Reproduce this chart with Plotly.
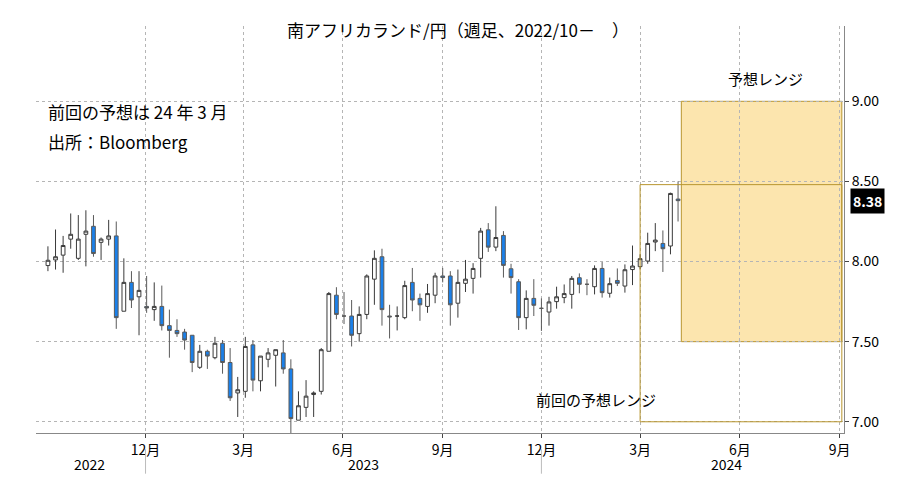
import pandas as pd
import plotly.graph_objects as go

dates = pd.date_range("2022-09-02", periods=84, freq="7D")
opens = [7.975,8.01,8.04,8.14,8.02,8.17,8.22,8.12,8.14,8.16,7.69,7.87,7.78,7.72,7.70,7.72,7.60,7.57,7.56,7.54,
         7.34,7.44,7.40,7.49,7.37,7.18,7.19,7.48,7.256,7.39,7.415,7.43,7.33,7.01,7.09,7.17,7.19,7.44,7.79,7.66,
         7.66,7.55,7.67,7.89,8.03,7.66,7.66,7.65,7.87,7.77,7.72,7.79,7.91,7.91,7.74,7.864,7.895,8.02,8.198,8.09,
         8.163,7.955,7.874,7.65,7.77,7.708,7.685,7.75,7.775,7.795,7.899,7.858,7.843,7.957,7.802,7.882,7.847,7.95,7.968,8.003,
         8.122,8.113,8.097,8.39]
closes = [8.008,8.03,8.10,8.17,8.14,8.19,8.05,8.14,8.16,7.65,7.87,7.76,7.82,7.71,7.72,7.60,7.57,7.55,7.51,7.37,
          7.44,7.41,7.49,7.37,7.15,7.20,7.47,7.26,7.41,7.43,7.45,7.33,7.02,7.10,7.16,7.18,7.45,7.80,7.67,7.66,
          7.54,7.67,7.91,8.02,7.70,7.655,7.66,7.85,7.76,7.73,7.80,7.91,7.90,7.73,7.87,7.89,7.957,8.19,8.09,8.15,
          7.976,7.90,7.65,7.77,7.727,7.708,7.748,7.78,7.80,7.895,7.858,7.858,7.957,7.806,7.862,7.864,7.949,7.972,8.018,8.113,
          8.134,8.08,8.425,8.38]
highs = [8.095,8.20,8.16,8.30,8.29,8.32,8.29,8.15,8.26,8.25,8.02,7.94,7.94,7.91,7.87,7.85,7.70,7.64,7.58,7.54,
         7.48,7.45,7.53,7.51,7.46,7.28,7.53,7.51,7.41,7.46,7.45,7.51,7.39,7.19,7.26,7.19,7.46,7.81,7.84,7.81,
         7.76,7.72,7.92,8.07,8.08,7.73,7.72,7.88,7.96,7.80,7.86,7.93,7.96,7.94,7.95,8.01,7.99,8.21,8.24,8.345,
         8.19,7.986,7.89,7.82,7.89,7.77,7.78,7.843,7.857,7.91,7.926,7.89,7.976,7.997,7.90,7.957,7.982,8.10,8.045,8.18,
         8.24,8.194,8.43,8.50]
lows = [7.94,7.95,7.93,8.08,8.01,7.97,8.03,8.01,8.10,7.58,7.69,7.71,7.54,7.68,7.63,7.57,7.40,7.53,7.45,7.31,
        7.33,7.33,7.39,7.30,7.13,7.03,7.15,7.19,7.19,7.34,7.22,7.30,6.92,7.01,7.03,7.03,7.17,7.44,7.64,7.61,
        7.47,7.50,7.64,7.73,7.60,7.52,7.57,7.64,7.69,7.63,7.68,7.74,7.87,7.60,7.65,7.81,7.80,7.90,8.06,8.065,
        7.90,7.80,7.573,7.577,7.66,7.567,7.60,7.706,7.74,7.706,7.802,7.79,7.795,7.775,7.775,7.847,7.806,7.853,7.951,7.986,
        8.065,7.935,8.045,8.25]

month_ticks = ["2022-12-01","2023-03-01","2023-06-01","2023-09-01","2023-12-01","2024-03-01","2024-06-01","2024-09-01"]
month_labels = ["12月","3月","6月","9月","12月","3月","6月","9月"]
years = ["2022","2023","2024"]
year_pos = ["2022-10-10","2023-06-20","2024-05-20"]
y_ticks = [7.0, 7.5, 8.0, 8.5, 9.0]
prev_range = [7.0, 8.48]
new_range = [7.5, 9.0]
last_price = 8.38

FONT = "Noto Sans CJK JP"
fig = go.Figure(go.Candlestick(
    x=dates, open=opens, high=highs, low=lows, close=closes,
    increasing=dict(line=dict(color="#3a3a3a", width=1), fillcolor="white"),
    decreasing=dict(line=dict(color="#5a5a5a", width=1), fillcolor="#1a80ea"),
    whiskerwidth=0, showlegend=False))

fig.add_shape(type="rect", x0="2024-04-08", x1="2024-09-03", y0=new_range[0], y1=new_range[1],
              fillcolor="#fce5ae", line=dict(color="#b8952e", width=1), layer="below")
fig.add_shape(type="rect", x0="2024-03-01", x1="2024-09-03", y0=prev_range[0], y1=prev_range[1],
              fillcolor="rgba(0,0,0,0)", line=dict(color="#b8952e", width=1))

fig.add_annotation(x="2024-06-25", y=9.14, text="予想レンジ", showarrow=False, font=dict(size=15, color="black"))
fig.add_annotation(x="2024-01-20", y=7.14, text="前回の予想レンジ", showarrow=False, font=dict(size=15, color="black"))
fig.add_annotation(xref="paper", yref="paper", x=0.012, y=0.79, xanchor="left", yanchor="middle",
                   text="前回の予想は 24 年 3 月", showarrow=False, font=dict(size=17, color="black"))
fig.add_annotation(xref="paper", yref="paper", x=0.012, y=0.717, xanchor="left", yanchor="middle",
                   text="出所：Bloomberg", showarrow=False, font=dict(size=17, color="black"))
fig.add_annotation(xref="paper", x=1.0, y=last_price, xanchor="left", xshift=6, text="<b>8.38</b>", showarrow=False,
                   bgcolor="black", font=dict(size=14, color="white"), borderpad=2)
for yl, yp in zip(years, year_pos):
    fig.add_annotation(x=yp, yref="paper", y=-0.075, text=yl, showarrow=False, yanchor="middle",
                       font=dict(size=14, color="black"))
for sep in ["2022-12-01", "2023-12-01"]:
    fig.add_shape(type="line", x0=sep, x1=sep, yref="paper", y0=-0.04, y1=-0.1, line=dict(color="#bbbbbb", width=1))

fig.update_layout(
    width=900, height=491, margin=dict(l=28, r=64, t=18, b=66),
    paper_bgcolor="white", plot_bgcolor="white",
    font=dict(family=FONT, size=14, color="black"),
    title=dict(text="南アフリカランド/円（週足、2022/10－　）", x=0.5, y=0.965, xanchor="center",
               font=dict(size=17, color="black")),
    xaxis=dict(range=["2022-08-22", "2024-09-05"], rangeslider=dict(visible=False),
               tickvals=month_ticks, ticktext=month_labels, ticks="outside", ticklen=4,
               showgrid=True, gridcolor="#b5b5b5", griddash="dot", showline=True, linecolor="#888"),
    yaxis=dict(side="right", range=[6.93, 9.47], tickvals=y_ticks, tickformat=".2f", ticks="outside",
               ticklen=4, showgrid=True, gridcolor="#b5b5b5", griddash="dot", showline=True, linecolor="#888",
               zeroline=False),
)
fig.write_html("out.html")
